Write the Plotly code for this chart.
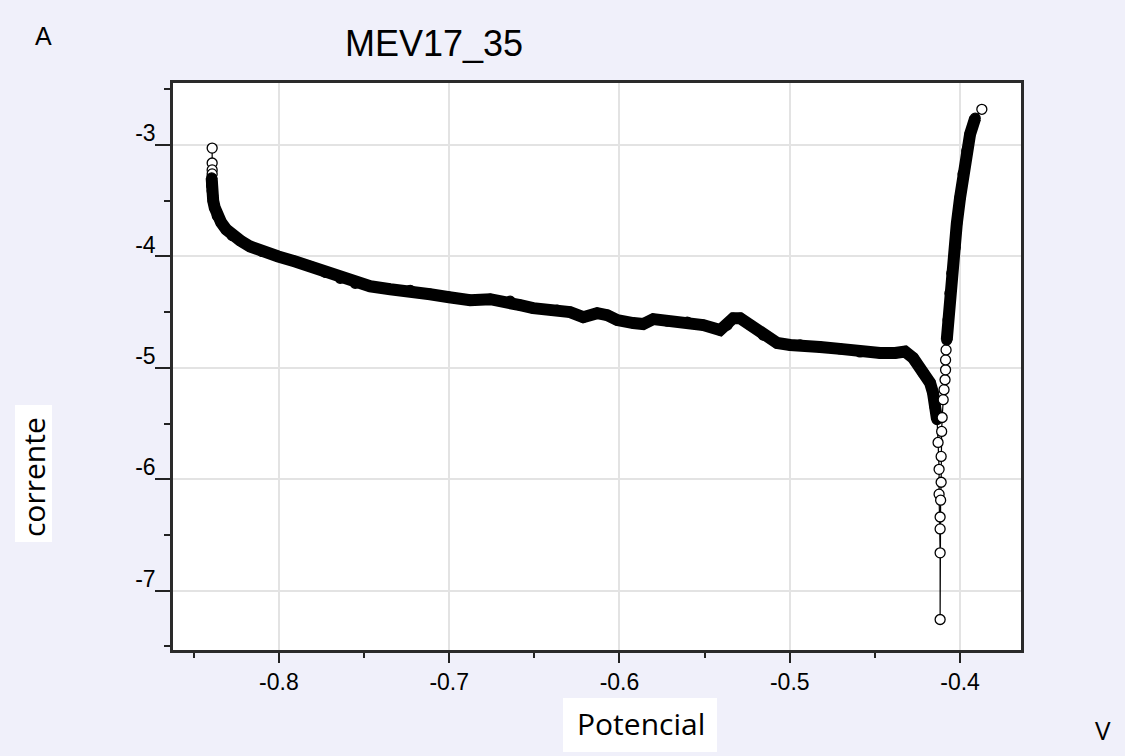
import plotly.graph_objects as go

# ---------------- data ----------------
potencial = [
    -0.8392, -0.8392, -0.8392, -0.8392, -0.8395, -0.8395, -0.8395, -0.8392, -0.8389, -0.8386,
    -0.8377, -0.8362, -0.8339, -0.8309, -0.8274, -0.8227, -0.8169, -0.8098, -0.8004, -0.7904,
    -0.7816, -0.7728, -0.7640, -0.7552, -0.7464, -0.7346, -0.7229, -0.7112, -0.7000, -0.6877,
    -0.6759, -0.6642, -0.6583, -0.6507, -0.6366, -0.6290, -0.6213, -0.6131, -0.6072, -0.6013,
    -0.5919, -0.5861, -0.5802, -0.5720, -0.5602, -0.5508, -0.5409, -0.5367, -0.5332, -0.5291,
    -0.5232, -0.5156, -0.5074, -0.4998, -0.4939, -0.4822, -0.4704, -0.4587, -0.4470, -0.4381,
    -0.4323, -0.4276, -0.4217, -0.4176, -0.4159, -0.4147, -0.4135,
    -0.4129, -0.4123, -0.4123, -0.4117, -0.4117, -0.4117,
    -0.4117, -0.4114, -0.4111, -0.4111, -0.4108, -0.4105, -0.4099, -0.4094, -0.4088, -0.4085,
    -0.4085, -0.4082, -0.4078, -0.4070, -0.4059, -0.4048, -0.4029, -0.4019, -0.4000, -0.3982,
    -0.3960, -0.3941, -0.3911, -0.3872,
]
corrente = [
    -3.027, -3.161, -3.223, -3.259, -3.295, -3.330, -3.366, -3.411, -3.455, -3.500,
    -3.563, -3.634, -3.696, -3.759, -3.813, -3.857, -3.911, -3.955, -4.000, -4.045,
    -4.089, -4.143, -4.196, -4.241, -4.268, -4.295, -4.304, -4.339, -4.366, -4.393,
    -4.384, -4.402, -4.438, -4.464, -4.482, -4.500, -4.545, -4.509, -4.527, -4.571,
    -4.598, -4.607, -4.563, -4.580, -4.589, -4.616, -4.661, -4.616, -4.554, -4.554,
    -4.616, -4.705, -4.777, -4.795, -4.795, -4.813, -4.830, -4.857, -4.866, -4.866,
    -4.853, -4.911, -5.045, -5.134, -5.223, -5.348, -5.464,
    -5.670, -5.911, -6.134, -6.446, -6.661, -7.259,
    -6.339, -6.188, -6.027, -5.795, -5.571, -5.446, -5.286, -5.196, -5.107, -5.018,
    -4.929, -4.839, -4.750, -4.571, -4.330, -4.152, -3.920, -3.705, -3.473, -3.259,
    -3.054, -2.902, -2.759, -2.679,
]

x_ticks = [-0.8, -0.7, -0.6, -0.5, -0.4]
x_tick_labels = ["-0.8", "-0.7", "-0.6", "-0.5", "-0.4"]
y_ticks = [-7, -6, -5, -4, -3]
y_tick_labels = ["-7", "-6", "-5", "-4", "-3"]

title_text = "MEV17_35"
x_label = "Potencial"
y_label = "corrente"
x_unit = "V"
y_unit = "A"

# ---------------- layout geometry ----------------
W, H = 1125, 756
L, R, T, B = 173, 104, 83, 106
BG = "#f0f0fa"


def px(xp):
    return (xp - L) / (W - L - R)


def py(yp):
    return (H - B - yp) / (H - T - B)


n = len(potencial)
# dense parts of the scan (drawn as a solid band) vs sparse points (open markers)
band_segments = [(4, 67), (85, 96)]
dense = set()
for a, b in band_segments:
    dense.update(range(a, b))
fill = ["black" if i in dense else "white" for i in range(n)]

band_x, band_y = [], []
for a, b in band_segments:
    band_x += potencial[a:b] + [None]
    band_y += corrente[a:b] + [None]

fig = go.Figure()
fig.add_trace(go.Scatter(
    x=band_x, y=band_y, mode="lines",
    line=dict(color="black", width=12),
    hoverinfo="skip", showlegend=False, connectgaps=False,
))
fig.add_trace(go.Scatter(
    x=potencial, y=corrente, mode="lines+markers",
    line=dict(color="black", width=1.2),
    marker=dict(symbol="circle", size=10, color=fill,
                line=dict(color="black", width=1.3)),
    showlegend=False,
))

axis_font = dict(family="Liberation Sans, Arial, sans-serif", size=23, color="black")

fig.update_xaxes(
    range=[-0.8622, -0.3642],
    tickmode="array", tickvals=x_ticks, ticktext=x_tick_labels,
    ticks="outside", ticklen=10, tickwidth=1.5, tickcolor="#222",
    tickfont=axis_font,
    showgrid=True, gridcolor="#e3e3e3", gridwidth=2,
    showline=True, linecolor="#2a2a2a", linewidth=2.5, mirror=True,
    zeroline=False,
    minor=dict(tickmode="linear", tick0=-0.85, dtick=0.1, ticks="outside",
               ticklen=5, tickwidth=1.5, tickcolor="#222", showgrid=False),
)
fig.update_yaxes(
    range=[-7.533, -2.443],
    tickmode="array", tickvals=y_ticks, ticktext=y_tick_labels,
    ticks="outside", ticklen=15, tickwidth=1.5, tickcolor="#222",
    tickfont=axis_font, ticklabelposition="outside top",
    ticklabelstandoff=10, ticklabelshift=5,
    showgrid=True, gridcolor="#e3e3e3", gridwidth=2,
    showline=True, linecolor="#2a2a2a", linewidth=2.5, mirror=True,
    zeroline=False,
    minor=dict(tickmode="linear", tick0=-7.5, dtick=1, ticks="outside",
               ticklen=6, tickwidth=1.5, tickcolor="#222", showgrid=False),
)

shapes = [
    dict(type="rect", xref="paper", yref="paper",
         x0=px(563), x1=px(717), y0=py(752), y1=py(698),
         fillcolor="white", line=dict(width=0), layer="below"),
    dict(type="rect", xref="paper", yref="paper",
         x0=px(15), x1=px(52), y0=py(542), y1=py(405),
         fillcolor="white", line=dict(width=0), layer="below"),
]

label_font = dict(family="Open Sans, Noto Sans, sans-serif", size=30, color="black")
annotations = [
    dict(text=title_text, xref="paper", yref="paper", x=px(434), y=py(43),
         xanchor="center", yanchor="middle", showarrow=False,
         font=dict(family="Liberation Sans, Arial, sans-serif", size=36, color="black")),
    dict(text=y_unit, xref="paper", yref="paper", x=px(43), y=py(36),
         xanchor="center", yanchor="middle", showarrow=False,
         font=dict(family="Liberation Sans, Arial, sans-serif", size=25, color="black")),
    dict(text=x_unit, xref="paper", yref="paper", x=px(1103), y=py(730),
         xanchor="center", yanchor="middle", showarrow=False,
         font=dict(family="Open Sans, Noto Sans, sans-serif", size=26, color="black")),
    dict(text=x_label, xref="paper", yref="paper", x=px(640.5), y=py(724),
         xanchor="center", yanchor="middle", showarrow=False, font=label_font),
    dict(text=y_label, xref="paper", yref="paper", x=px(33), y=py(477),
         xanchor="center", yanchor="middle", showarrow=False, textangle=-90,
         font=label_font),
]

fig.update_layout(
    width=W, height=H,
    margin=dict(l=L, r=R, t=T, b=B),
    paper_bgcolor=BG, plot_bgcolor="white",
    shapes=shapes, annotations=annotations,
    showlegend=False,
)

fig.write_html("out.html")
